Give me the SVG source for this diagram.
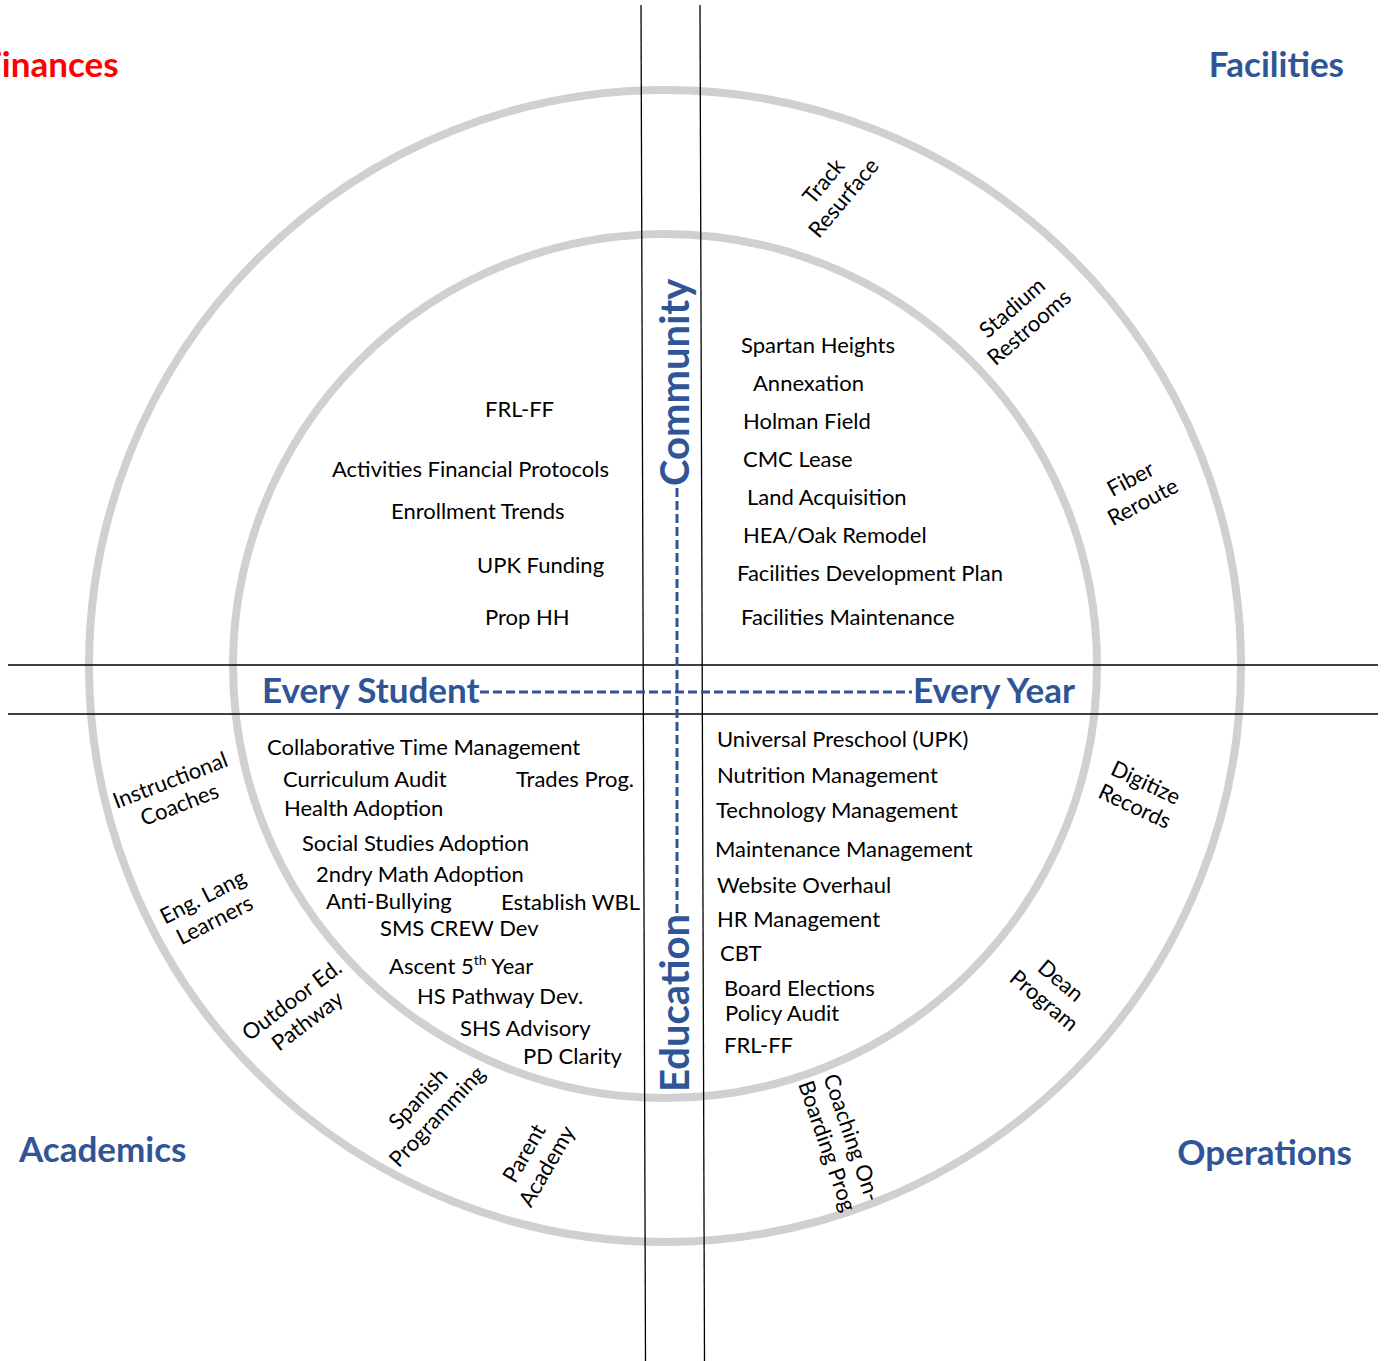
<svg xmlns="http://www.w3.org/2000/svg" width="1388" height="1361" viewBox="0 0 1388 1361">
<style>
.t{font-family:Lato,"Open Sans","Liberation Sans",sans-serif;font-size:22px;fill:#000}
.ring{fill:none;stroke:#d0d0d0;stroke-width:8}
.rule{stroke:#000;stroke-width:1.3}
.hd{font-family:Lato,"Open Sans","Liberation Sans",sans-serif;font-weight:bold;font-size:35px;fill:#2f5597}
.vt{font-family:Lato,"Open Sans","Liberation Sans",sans-serif;font-weight:bold;font-size:40px;fill:#2f5597}
.dash{stroke:#2f5597;stroke-width:3;stroke-dasharray:9 4;fill:none}
.r{text-anchor:middle}
</style>
<rect width="1388" height="1361" fill="#fff"/>
<g id="rings">
<circle class="ring" cx="665" cy="666" r="576"/>
<circle class="ring" cx="665" cy="666" r="432"/>
</g>
<g id="connectors">
<line class="rule" x1="641" y1="5" x2="645.5" y2="1361"/>
<line class="rule" x1="700" y1="5" x2="704.5" y2="1361"/>
<line class="rule" x1="8" y1="665" x2="1378" y2="665"/>
<line class="rule" x1="8" y1="714" x2="1378" y2="714"/>
<line class="dash" x1="677" y1="488" x2="677" y2="913"/>
<line class="dash" x1="480" y1="692" x2="912" y2="692"/>
</g>
<g id="corner-labels">
<text class="hd" x="-18" y="77" fill="#ff0000" style="fill:#ff0000">Finances</text>
<text class="hd" x="1344" y="77" text-anchor="end">Facilities</text>
<text class="hd" x="19" y="1162">Academics</text>
<text class="hd" x="1352" y="1165" text-anchor="end">Operations</text>
</g>
<g id="axis-labels">
<text class="hd" x="262" y="703">Every Student</text>
<text class="hd" x="1075" y="703" text-anchor="end">Every Year</text>
<text class="vt" transform="translate(689,486) rotate(-90)">Community</text>
<text class="vt" transform="translate(689,1092) rotate(-90)">Education</text>
</g>
<g id="finances-inner">
<text class="t" x="485" y="417">FRL-FF</text>
<text class="t" x="332" y="477">Activities Financial Protocols</text>
<text class="t" x="391" y="519">Enrollment Trends</text>
<text class="t" x="477" y="573">UPK Funding</text>
<text class="t" x="485" y="625">Prop HH</text>
</g>
<g id="facilities-inner">
<text class="t" x="741" y="353">Spartan Heights</text>
<text class="t" x="753" y="391">Annexation</text>
<text class="t" x="743" y="429">Holman Field</text>
<text class="t" x="743" y="467">CMC Lease</text>
<text class="t" x="747" y="505">Land Acquisition</text>
<text class="t" x="743" y="543">HEA/Oak Remodel</text>
<text class="t" x="737" y="581">Facilities Development Plan</text>
<text class="t" x="741" y="625">Facilities Maintenance</text>
</g>
<g id="academics-inner">
<text class="t" x="267" y="755">Collaborative Time Management</text>
<text class="t" x="283" y="787">Curriculum Audit</text>
<text class="t" x="516" y="787">Trades Prog.</text>
<text class="t" x="284" y="816">Health Adoption</text>
<text class="t" x="302" y="851">Social Studies Adoption</text>
<text class="t" x="316" y="882">2ndry Math Adoption</text>
<text class="t" x="326" y="909">Anti-Bullying</text>
<text class="t" x="501" y="910">Establish WBL</text>
<text class="t" x="380" y="936">SMS CREW Dev</text>
<text class="t" x="389" y="974">Ascent 5<tspan font-size="14" dy="-9">th</tspan><tspan dy="9"> Year</tspan></text>
<text class="t" x="417" y="1004">HS Pathway Dev.</text>
<text class="t" x="460" y="1036">SHS Advisory</text>
<text class="t" x="523" y="1064">PD Clarity</text>
</g>
<g id="operations-inner">
<text class="t" x="717" y="747">Universal Preschool (UPK)</text>
<text class="t" x="717" y="783">Nutrition Management</text>
<text class="t" x="716" y="818">Technology Management</text>
<text class="t" x="715" y="857">Maintenance Management</text>
<text class="t" x="717" y="893">Website Overhaul</text>
<text class="t" x="717" y="927">HR Management</text>
<text class="t" x="720" y="961">CBT</text>
<text class="t" x="724" y="996">Board Elections</text>
<text class="t" x="725" y="1021">Policy Audit</text>
<text class="t" x="724" y="1053">FRL-FF</text>
</g>
<g id="outer-ring-items">
<g id="track" transform="translate(834,190) rotate(-50)"><text class="t r"><tspan x="0" y="-6">Track</tspan><tspan x="0" y="20">Resurface</tspan></text></g>
<g id="stadium" transform="translate(1021,318) rotate(-41)"><text class="t r"><tspan x="0" y="-6">Stadium</tspan><tspan x="0" y="20">Restrooms</tspan></text></g>
<g id="fiber" transform="translate(1137,491) rotate(-28)"><text class="t r"><tspan x="0" y="-6">Fiber</tspan><tspan x="0" y="20">Reroute</tspan></text></g>
<g id="digitize" transform="translate(1140,795) rotate(25)"><text class="t r"><tspan x="0" y="-6">Digitize</tspan><tspan x="0" y="20">Records</tspan></text></g>
<g id="dean" transform="translate(1052,991) rotate(40)"><text class="t r"><tspan x="0" y="-6">Dean</tspan><tspan x="0" y="20">Program</tspan></text></g>
<g id="coaching" transform="translate(839,1142) rotate(71)"><text class="t r"><tspan x="0" y="-6">Coaching On-</tspan><tspan x="0" y="20">Boarding Prog</tspan></text></g>
<g id="parent" transform="translate(536,1160) rotate(-60)"><text class="t r"><tspan x="0" y="-6">Parent</tspan><tspan x="0" y="20">Academy</tspan></text></g>
<g id="spanish" transform="translate(428,1108) rotate(-47)"><text class="t r"><tspan x="0" y="-6">Spanish</tspan><tspan x="0" y="20">Programming</tspan></text></g>
<g id="outdoor" transform="translate(300,1011) rotate(-37)"><text class="t r"><tspan x="0" y="-6">Outdoor Ed.</tspan><tspan x="0" y="20">Pathway</tspan></text></g>
<g id="englang" transform="translate(209,909) rotate(-27)"><text class="t r"><tspan x="0" y="-6">Eng. Lang</tspan><tspan x="0" y="20">Learners</tspan></text></g>
<g id="instructional" transform="translate(175,793) rotate(-21)"><text class="t r"><tspan x="0" y="-6">Instructional</tspan><tspan x="0" y="20">Coaches</tspan></text></g>
</g>
</svg>
